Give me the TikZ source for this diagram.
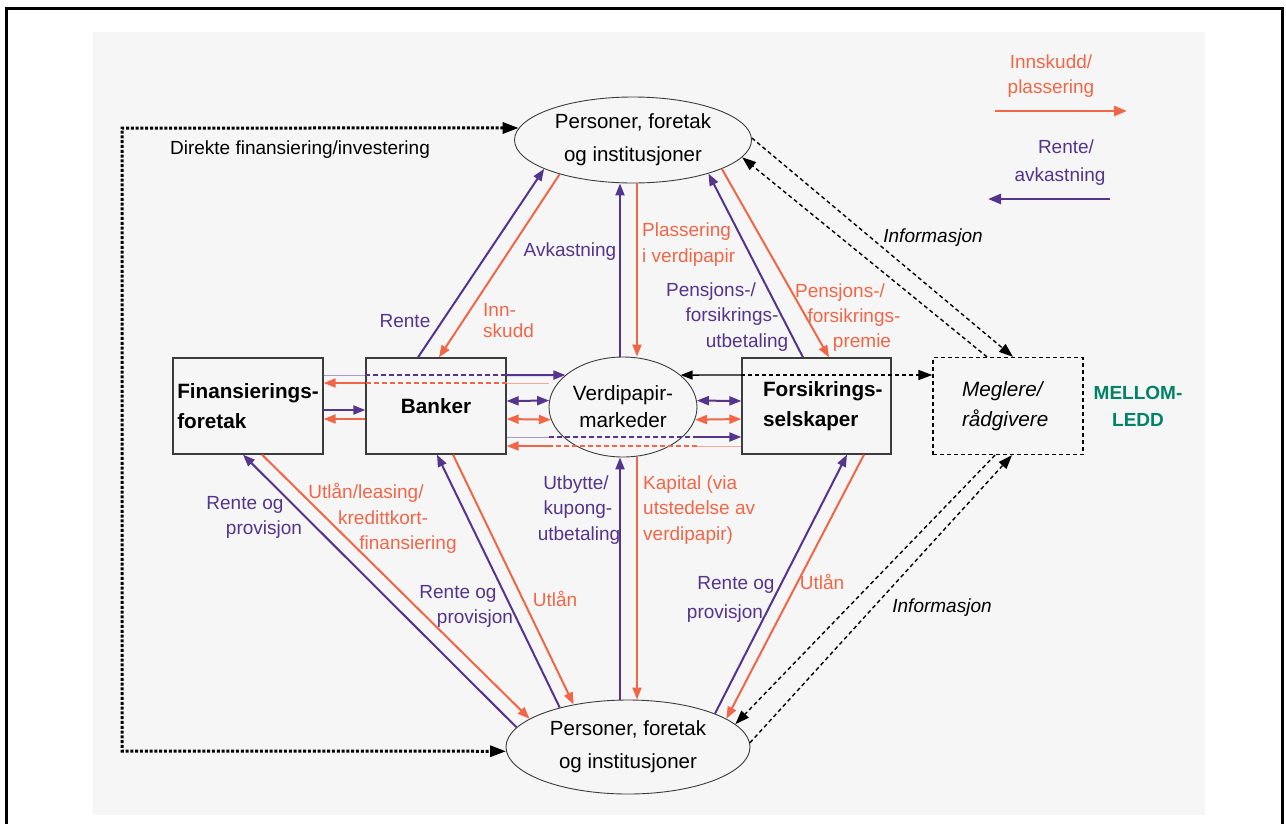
\documentclass[tikz,border=0pt]{standalone}
\usepackage{fontspec}
\setmainfont{Liberation Sans}
\usetikzlibrary{arrows.meta,shapes.geometric,calc}
\definecolor{cOr}{RGB}{242,102,72}
\definecolor{cPu}{RGB}{84,52,140}
\definecolor{cLPu}{RGB}{165,155,205}
\definecolor{cLOr}{RGB}{250,168,148}
\definecolor{cGr}{RGB}{0,130,100}
\definecolor{cBg}{RGB}{246,246,246}
\definecolor{cBx}{RGB}{60,60,60}
\begin{document}
\begin{tikzpicture}[x=1pt,y=-1pt,
  lab/.style={font=\fontsize{19}{26}\selectfont, inner sep=0pt, anchor=base},
  ell/.style={ellipse, draw=cBx, line width=0.9pt, inner sep=0pt, align=center, font=\fontsize{20.5}{33}\selectfont},
  boxn/.style={rectangle, draw=cBx, line width=1.3pt, inner sep=0pt, minimum height=96pt},
  oline/.style={draw=cOr, line width=2pt},
  pline/.style={draw=cPu, line width=2pt},
  othin/.style={draw=cLOr, line width=1pt},
  pthin/.style={draw=cLPu, line width=1pt},
  odash/.style={draw=cOr, line width=2pt, dash pattern=on 5pt off 3pt},
  pdash/.style={draw=cPu, line width=2pt, dash pattern=on 5pt off 3pt},
  ah/.style={-{Triangle[length=12pt,width=9pt]}},
  ahs/.style={{Triangle[length=12pt,width=9pt]}-},
  dah/.style={{Triangle[length=12pt,width=9pt]}-{Triangle[length=12pt,width=9pt]}},
  info/.style={draw=black, line width=1.4pt, dash pattern=on 4pt off 3pt, -{Triangle[length=14pt,width=10pt]}},
  direct/.style={draw=black, line width=3pt, dash pattern=on 3pt off 1.8pt, miter limit=10,
     {Triangle[length=16pt,width=11pt]}-{Triangle[length=16pt,width=11pt]}},
  legarrow/.style={line width=2.6pt, -{Triangle[length=13pt,width=10pt]}}
]
\useasboundingbox (0,0) rectangle (1286,823);
\fill[white] (0,0) rectangle (1286,823);
\fill[cBg] (93,32) rectangle (1205,815);
\draw[line width=3pt] (6,830) -- (6,8) -- (1282,8) -- (1282,830);

% nodes
\node[ell, minimum width=237pt, minimum height=86pt] (T) at (633,140) {Personer, foretak\\og institusjoner};
\node[ell, minimum width=244pt, minimum height=94pt] (B) at (628,747) {Personer, foretak\\og institusjoner};
\node[ell, minimum width=148pt, minimum height=100pt, font=\fontsize{20.7}{27}\selectfont] (V) at (623,407) {Verdipapir-\\markeder};
\node[boxn, minimum width=150pt, align=left, font=\bfseries\fontsize{20.7}{30}\selectfont] (F) at (248,406) {Finansierings-\\foretak};
\node[boxn, minimum width=140pt, font=\bfseries\fontsize{20.7}{30}\selectfont] (K) at (436,406) {Banker};
\node[boxn, minimum width=149pt, text width=107pt, align=left, font=\bfseries\fontsize{20.7}{29.5}\selectfont] (S) at (816.5,406) {\mbox{Forsikrings-}\\selskaper};
\node[rectangle, draw=black, line width=1.3pt, dash pattern=on 4pt off 3pt, inner sep=0pt, minimum width=150pt, minimum height=97pt, text width=92pt, align=left, font=\itshape\fontsize{20.7}{30}\selectfont] (M) at (1008,406) {Meglere/\\rådgivere};
\node[align=center, inner sep=0pt, text=cGr, font=\bfseries\fontsize{19}{27}\selectfont] (ML) at (1138,406) {MELLOM-\\LEDD};

% labels
\node[lab] (dfi) at (300,154) {Direkte finansiering/investering};
\node[lab, text=cOr] (lg1) at (1051,68) {Innskudd/};
\node[lab, text=cOr] (lg2) at (1051,93) {plassering};
\node[lab, text=cPu] (lg3) at (1066,153) {Rente/};
\node[lab, text=cPu] (lg4) at (1060,181) {avkastning};
\node[lab, text=cPu] (r1) at (405,327) {Rente};
\node[lab, text=cOr, anchor=base west] (i1) at (483,316) {Inn-};
\node[lab, text=cOr, anchor=base west] (i2) at (483,337) {skudd};
\node[lab, text=cPu] (av) at (570,256) {Avkastning};
\node[lab, text=cOr, anchor=base west] (pv1) at (642,236) {Plassering};
\node[lab, text=cOr, anchor=base west] (pv2) at (642,262) {i verdipapir};
\node[lab, text=cPu] (pu1) at (711,296) {Pensjons-/};
\node[lab, text=cPu] (pu2) at (732,321) {forsikrings-};
\node[lab, text=cPu] (pu3) at (747,347) {utbetaling};
\node[lab, text=cOr] (pp1) at (840,297) {Pensjons-/};
\node[lab, text=cOr] (pp2) at (854,322) {forsikrings-};
\node[lab, text=cOr] (pp3) at (862,347) {premie};
\node[lab, font=\itshape\fontsize{19}{26}\selectfont] (inf1) at (933,242) {Informasjon};
\node[lab, text=cPu] (rp1) at (245,509) {Rente og};
\node[lab, text=cPu] (rp2) at (264,534) {provisjon};
\node[lab, text=cOr] (ul1) at (366,498) {Utlån/leasing/};
\node[lab, text=cOr] (ul2) at (383,524) {kredittkort-};
\node[lab, text=cOr] (ul3) at (408,549) {finansiering};
\node[lab, text=cPu] (rp3) at (458,598) {Rente og};
\node[lab, text=cPu] (rp4) at (475,623) {provisjon};
\node[lab, text=cOr] (ut1) at (555,606) {Utlån};
\node[lab, text=cPu] (ub1) at (576,489) {Utbytte/};
\node[lab, text=cPu] (ub2) at (578,514) {kupong-};
\node[lab, text=cPu] (ub3) at (579,540) {utbetaling};
\node[lab, text=cOr, anchor=base west] (ka1) at (643,489) {Kapital (via};
\node[lab, text=cOr, anchor=base west] (ka2) at (643,514) {utstedelse av};
\node[lab, text=cOr, anchor=base west] (ka3) at (643,540) {verdipapir)};
\node[lab, text=cPu] (rp5) at (736,589) {Rente og};
\node[lab, text=cPu] (rp6) at (725,618) {provisjon};
\node[lab, text=cOr] (ut2) at (822,589) {Utlån};
\node[lab, font=\itshape\fontsize{19}{26}\selectfont] (inf2) at (942,612) {Informasjon};

% legend arrows
\coordinate (la1) at (995,111); \coordinate (la2) at (1127,111);
\coordinate (lb1) at (1110,199); \coordinate (lb2) at (988,199);
\draw[cOr, legarrow] (la1) -- (la2);
\draw[cPu, legarrow] (lb1) -- (lb2);

% direct financing
\coordinate (d1) at (122,128); \coordinate (d2) at (122,751);
\draw[direct] (T.174) -- (d1) -- (d2) -- (B.182);

% top ellipse connections
\draw[pline, ah] ([xshift=-18pt]K.north) -- (T.198);
\draw[oline, ah] (T.205) -- ([xshift=3pt]K.north);
\draw[pline, ah] ([xshift=-3pt]V.north) -- ([xshift=-13pt]T.south);
\draw[oline, ah] ([xshift=4pt]T.south) -- ([xshift=14pt]V.north);
\draw[pline, ah] ([xshift=-13.5pt]S.north) -- (T.-24);
\draw[oline, ah] (T.-18) -- ([xshift=12.5pt]S.north);
\draw[info] (T.1) -- ([xshift=5pt]M.north);
\draw[info] ([xshift=-21pt]M.north) -- (T.-9);

% bottom ellipse connections
\draw[pline, ah] (B.170) -- ([xshift=-5pt]F.south);
\draw[oline, ah] ([xshift=14pt]F.south) -- (B.164);
\draw[pline, ah] (B.150) -- ([xshift=1pt]K.south);
\draw[oline, ah] ([xshift=17pt]K.south) -- (B.142);
\draw[pline, ah] ([xshift=-8pt]B.north) -- ([xshift=-3pt]V.south);
\draw[oline, ah] ([xshift=14pt]V.south) -- ([xshift=9pt]B.north);
\draw[pline, ah] (B.21) -- ([xshift=30.5pt]S.south);
\draw[oline, ah] ([xshift=47.5pt]S.south) -- (B.16);
\draw[info] (B.2) -- ([xshift=4pt]M.south);
\draw[info] ([xshift=-13pt]M.south) -- (B.12);

% horizontal: F -> V through K (purple)
\draw[pthin] ([yshift=31pt]F.east) -- ([yshift=31pt]K.west);
\draw[pdash] ([yshift=31pt]K.west) -- ([yshift=31pt]K.east);
\draw[pline, ah] ([yshift=31pt]K.east) -- (V.151);
% V -> F through K (orange)
\draw[othin] ([yshift=24pt]V.west) -- ([yshift=23pt]K.east);
\draw[odash] ([yshift=23pt]K.east) -- ([yshift=23pt]K.west);
\draw[oline, ah] ([yshift=23pt]K.west) -- ([yshift=23pt]F.east);
% F <-> K
\draw[pline, ah] ([yshift=-4pt]F.east) -- ([yshift=-4pt]K.west);
\draw[oline, ah] ([yshift=-13pt]K.west) -- ([yshift=-13pt]F.east);
% K <-> V
\draw[pline, dah] ([yshift=5pt]K.east) -- (V.175);
\draw[oline, dah] ([yshift=-13pt]K.east) -- (V.190);
% K -> S through V (purple)
\draw[pthin] ([yshift=-31pt]K.east) -- ([yshift=-30pt]V.west);
\draw[pdash] ([yshift=-30pt]V.west) -- ([yshift=-30pt]V.east);
\draw[pline, ah] ([yshift=-30pt]V.east) -- ([yshift=-31pt]S.west);
% S -> K through V (orange)
\draw[othin] ([yshift=-40pt]S.west) -- ([yshift=-39pt]V.east);
\draw[odash] ([yshift=-39pt]V.east) -- ([yshift=-39pt]V.west);
\draw[oline, ah] ([yshift=-39pt]V.west) -- ([yshift=-40pt]K.east);
% V <-> S
\draw[pline, dah] (V.5) -- ([yshift=5pt]S.west);
\draw[oline, dah] (V.-10) -- ([yshift=-13pt]S.west);
% V <-> M through S (black)
\draw[draw=black, line width=1.4pt, ahs] (V.29) -- ([yshift=31pt]S.west);
\draw[info] ([yshift=31pt]S.west) -- ([yshift=31pt]M.west);
\end{tikzpicture}
\end{document}
